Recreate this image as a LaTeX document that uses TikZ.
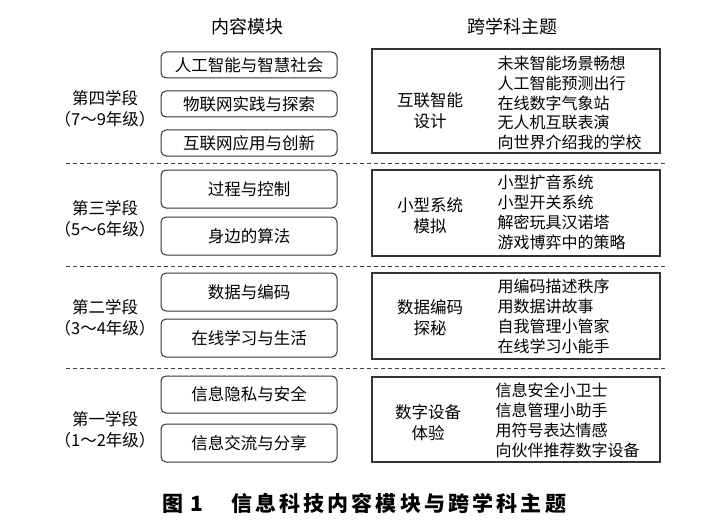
\documentclass[tikz,border=0pt]{standalone}
\usepackage{fontspec}
\setmainfont{Noto Sans CJK SC}
\usepackage{tikz}

\begin{document}
\begin{tikzpicture}[x=1pt,y=-1pt,
    module/.style={draw=black!80,rounded corners=5pt,line width=1pt,minimum width=176pt,font=\fontsize{16.5}{18}\selectfont},
    themebox/.style={draw=black!80,line width=1.3pt},
    title/.style={align=center,font=\fontsize{16.5}{21}\selectfont},
    items/.style={align=left,anchor=west,font=\fontsize{16}{19.8}\selectfont},
    sep/.style={draw=black!75,line width=1pt,dash pattern=on 4pt off 3pt}]
    \useasboundingbox (0,0) rectangle (717,532);

    \node[font=\fontsize{18}{18}\selectfont] (headm) at (247,27) {内容模块};
    \node[font=\fontsize{18}{18}\selectfont] (headt) at (512,27) {跨学科主题};

    \node[module,minimum height=26pt] (m41) at (249,65) {人工智能与智慧社会};
    \node[module,minimum height=26pt] (m42) at (249,104) {物联网实践与探索};
    \node[module,minimum height=26pt] (m43) at (249,143) {互联网应用与创新};
    \node[module,minimum height=38pt] (m31) at (249,189) {过程与控制};
    \node[module,minimum height=38pt] (m32) at (249,236) {身边的算法};
    \node[module,minimum height=38pt] (m21) at (249,292) {数据与编码};
    \node[module,minimum height=38pt] (m22) at (249,338) {在线学习与生活};
    \node[module,minimum height=37pt] (m11) at (249,394.5) {信息隐私与安全};
    \node[module,minimum height=38pt] (m12) at (249,443) {信息交流与分享};

    \node[title] (s4) at (105,109) {第四学段\\（7～9年级）};
    \node[title] (s3) at (105,218.5) {第三学段\\（5～6年级）};
    \node[title] (s2) at (105,317.5) {第二学段\\（3～4年级）};
    \node[title] (s1) at (105,430) {第一学段\\（1～2年级）};

    \draw[themebox] (372,49) rectangle (660,153);
    \draw[themebox] (372,170) rectangle (660,256);
    \draw[themebox] (372,273) rectangle (660,359);
    \draw[themebox] (372,377) rectangle (660,462);

    \node[title] (t4) at (430,111) {互联智能\\设计};
    \node[title] (t3) at (430,216) {小型系统\\模拟};
    \node[title] (t2) at (430,317.5) {数据编码\\探秘};
    \node[title] (t1) at (428,423) {数字设备\\体验};

    \node[items] (i4) at (494,103) {未来智能场景畅想\\人工智能预测出行\\在线数字气象站\\无人机互联表演\\向世界介绍我的学校};
    \node[items] (i3) at (494,212.5) {小型扩音系统\\小型开关系统\\解密玩具汉诺塔\\游戏博弈中的策略};
    \node[items] (i2) at (494,316.5) {用编码描述秩序\\用数据讲故事\\自我管理小管家\\在线学习小能手};
    \node[items] (i1) at (492,420.5) {信息安全小卫士\\信息管理小助手\\用符号表达情感\\向伙伴推荐数字设备};

    \draw[sep] (66,163) -- (668,163);
    \draw[sep] (66,266) -- (668,266);
    \draw[sep] (66,368) -- (668,368);

    \node[font=\fontsize{21}{21}\selectfont\bfseries\addfontfeatures{LetterSpace=15}] (cap) at (364,503) {图 1　信息科技内容模块与跨学科主题};
\end{tikzpicture}
\end{document}
